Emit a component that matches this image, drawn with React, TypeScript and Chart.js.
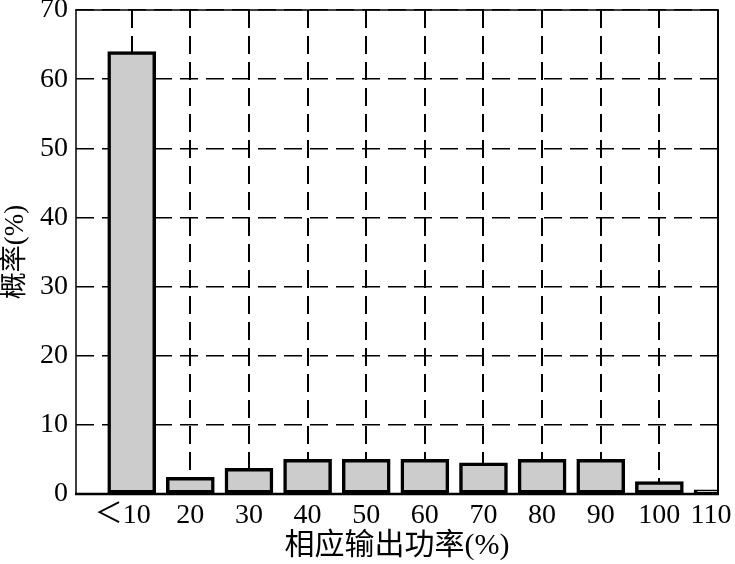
import React, { useEffect, useRef } from "react";
import { Chart, registerables } from "chart.js";

Chart.register(...registerables);

const categories = ["＜10", "20", "30", "40", "50", "60", "70", "80", "90", "100", "110"];
const positions = [10, 20, 30, 40, 50, 60, 70, 80, 90, 100, 110];
const probability = [64, 2.4, 3.7, 5.0, 5.0, 5.0, 4.5, 5.0, 5.0, 1.8, 0.6];
const yTicks = [0, 10, 20, 30, 40, 50, 60, 70];

const FONT = "'Liberation Serif', 'Noto Sans CJK SC', serif";

const framePlugin = {
  id: "frame",
  beforeDraw(chart: any) {
    // nudge edge labels so they stay inside the canvas like the original
    const s = chart.scales.x;
    const items = s.getLabelItems ? s.getLabelItems() : null;
    if (items && items.length) {
      const first = items[0];
      const last = items[items.length - 1];
      if (first && !first._nudged) {
        first.options.translation[0] -= 9;
        first._nudged = true;
      }
      if (last && !last._nudged) {
        last.options.translation[0] -= 7;
        last._nudged = true;
      }
    }
  },
  afterDatasetsDraw(chart: any) {
    const { ctx, chartArea: a } = chart;
    ctx.save();
    ctx.strokeStyle = "#000";
    ctx.setLineDash([]);
    const line = (x1: number, y1: number, x2: number, y2: number, w: number) => {
      ctx.lineWidth = w;
      ctx.beginPath();
      ctx.moveTo(x1, y1);
      ctx.lineTo(x2, y2);
      ctx.stroke();
    };
    line(a.left - 1, a.top, a.right + 1, a.top, 1.5);
    line(a.left, a.top, a.left, a.bottom, 1.5);
    line(a.right, a.top, a.right, a.bottom + 1, 2);
    line(a.left - 1, a.bottom, a.right + 1, a.bottom, 2.5);
    ctx.restore();
  },
};

export default function App() {
  const ref = useRef<HTMLCanvasElement | null>(null);
  useEffect(() => {
    if (!ref.current) return;
    Chart.defaults.color = "#000";
    const chart = new Chart(ref.current, {
      type: "bar",
      data: {
        datasets: [
          {
            data: positions.map((x, i) => ({ x, y: probability[i] })),
            backgroundColor: "#cccccc",
            borderColor: "#000",
            borderWidth: 3.5,
            borderSkipped: false,
            barThickness: 48,
          },
        ],
      },
      options: {
        animation: false,
        responsive: false,
        devicePixelRatio: 1,
        layout: { padding: { top: 10, right: 17, left: 0, bottom: 0 } },
        plugins: { legend: { display: false }, tooltip: { enabled: false } },
        scales: {
          x: {
            type: "linear",
            offset: false,
            min: 0.5,
            max: 110,
            afterBuildTicks: (s: any) => {
              s.ticks = positions.map((v) => ({ value: v }));
            },
            afterFit: (s: any) => {
              s.height = 70;
              s.paddingLeft = 0;
              s.paddingRight = 0;
            },
            ticks: {
              autoSkip: false,
              maxRotation: 0,
              padding: 5,
              font: { family: FONT, size: 28 },
              color: "#000",
              callback: (v: any) => {
                const i = positions.indexOf(Number(v));
                return i >= 0 ? categories[i] : "";
              },
            },
            grid: { offset: false, color: "#000", lineWidth: 2, drawTicks: false },
            border: { display: false, dash: [18, 8] },
            title: {
              display: true,
              text: "相应输出功率(%)",
              font: { family: FONT, size: 30 },
              color: "#000",
              padding: { top: 0, bottom: 0 },
            },
          },
          y: {
            min: 0,
            max: 70,
            afterBuildTicks: (s: any) => {
              s.ticks = yTicks.map((v) => ({ value: v }));
            },
            afterFit: (s: any) => {
              s.width = 76;
              s.paddingTop = 0;
              s.paddingBottom = 0;
            },
            ticks: {
              padding: 8,
              font: { family: FONT, size: 28 },
              color: "#000",
            },
            grid: { color: "#000", lineWidth: 1.5, drawTicks: false },
            border: { display: false, dash: [18, 8] },
            title: {
              display: true,
              text: "概率(%)",
              font: { family: FONT, size: 27 },
              color: "#000",
              padding: { top: 0, bottom: 0 },
            },
          },
        },
      },
      plugins: [framePlugin],
    } as any);
    return () => chart.destroy();
  }, []);
  return (
    <div style={{ position: "absolute", left: 0, top: 0, width: 735, height: 564, background: "#fff" }}>
      <canvas ref={ref} width={735} height={564} style={{ display: "block" }} />
    </div>
  );
}
